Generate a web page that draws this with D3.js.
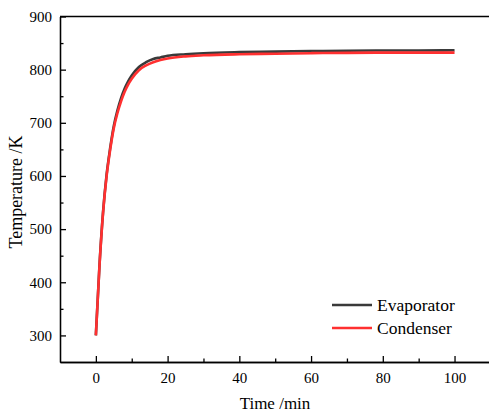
<!DOCTYPE html>
<html>
<head>
<meta charset="utf-8">
<script src="https://cdn.jsdelivr.net/npm/d3@7"></script>
<style>
  html, body { margin: 0; padding: 0; background: #fff; }
  svg { display: block; }
  text { font-family: "Liberation Serif", "Times New Roman", serif; fill: #000; }
</style>
</head>
<body>
<svg id="chart" width="489" height="412"></svg>
<script>
// data
const timeMin = [0, 1, 2, 3, 4, 5, 6, 7, 8, 9, 10, 12, 14, 16, 18, 20, 25, 30, 40, 50, 60, 70, 80, 90, 100];
const evaporator = [300, 431, 532, 603, 653, 694, 723, 746, 764, 778, 789, 805, 814, 820, 823, 826, 829, 831, 833, 834, 835, 835.5, 836, 836, 836.5];
const condenser  = [300, 430, 530, 600, 650, 690, 718, 740, 758, 772, 783, 799, 808, 814, 818, 821, 825, 827, 829, 830, 831, 831.5, 832, 832, 832];
const seriesNames = ["Evaporator", "Condenser"];
const seriesColors = ["#3a3a3a", "#ff3030"];
const xTicks = [0, 20, 40, 60, 80, 100];
const xMinor = [10, 30, 50, 70, 90];
const yTicks = [300, 400, 500, 600, 700, 800, 900];
const yMinor = [350, 450, 550, 650, 750, 850];

const svg = d3.select("#chart");

// plot frame
const x = d3.scaleLinear().domain([-10, 110]).range([60, 490.4]);
const y = d3.scaleLinear().domain([250, 900]).range([362, 16.5]);

// frame top + right (right edge falls just outside the window)
svg.append("path")
  .attr("d", `M${x(-10)},${y(900)}H${x(110)}V${y(250)}`)
  .attr("fill", "none").attr("stroke", "#000").attr("stroke-width", 1.3);

// axes
const styleAxis = g => {
  g.attr("font-family", "'Liberation Serif', 'Times New Roman', serif").attr("font-size", 15);
  g.select(".domain").attr("stroke-width", 1.3);
  g.selectAll(".tick line").attr("stroke-width", 1.3);
  g.selectAll("text").attr("font-size", "15px")
    .style("font-family", "'Liberation Serif', serif");
};

svg.append("g")
  .attr("transform", `translate(0,${y(250)})`)
  .call(d3.axisBottom(x).tickValues(xTicks).tickSizeInner(-6).tickSizeOuter(0).tickPadding(10))
  .call(styleAxis);
svg.append("g")
  .attr("transform", `translate(0,${y(250)})`)
  .call(d3.axisBottom(x).tickValues(xMinor).tickSizeInner(-3.5).tickSizeOuter(0).tickFormat(""))
  .call(styleAxis);

svg.append("g")
  .attr("transform", `translate(${x(-10)},0)`)
  .call(d3.axisLeft(y).tickValues(yTicks).tickSizeInner(-6).tickSizeOuter(0).tickPadding(8))
  .call(styleAxis);
svg.append("g")
  .attr("transform", `translate(${x(-10)},0)`)
  .call(d3.axisLeft(y).tickValues(yMinor).tickSizeInner(-3.5).tickSizeOuter(0).tickFormat(""))
  .call(styleAxis);

// axis titles
svg.append("text")
  .attr("x", 275).attr("y", 409)
  .attr("text-anchor", "middle").attr("font-size", "17px")
  .text("Time /min");

svg.append("text")
  .attr("transform", "translate(22,192) rotate(-90)")
  .attr("text-anchor", "middle").attr("font-size", "18px")
  .text("Temperature /K");

// curves
const line = d3.line()
  .x((d, i) => x(timeMin[i]))
  .y(d => y(d))
  .curve(d3.curveMonotoneX);

[evaporator, condenser].forEach((vals, i) => {
  svg.append("path")
    .attr("d", line(vals))
    .attr("fill", "none")
    .attr("stroke", seriesColors[i])
    .attr("stroke-width", 2.6);
});

// legend
seriesNames.forEach((name, i) => {
  const ly = 305 + i * 23;
  svg.append("line")
    .attr("x1", 332).attr("x2", 372)
    .attr("y1", ly).attr("y2", ly)
    .attr("stroke", seriesColors[i]).attr("stroke-width", 2.6);
  svg.append("text")
    .attr("x", 377).attr("y", ly + 6)
    .attr("font-size", "17.5px")
    .text(name);
});
</script>
</body>
</html>
